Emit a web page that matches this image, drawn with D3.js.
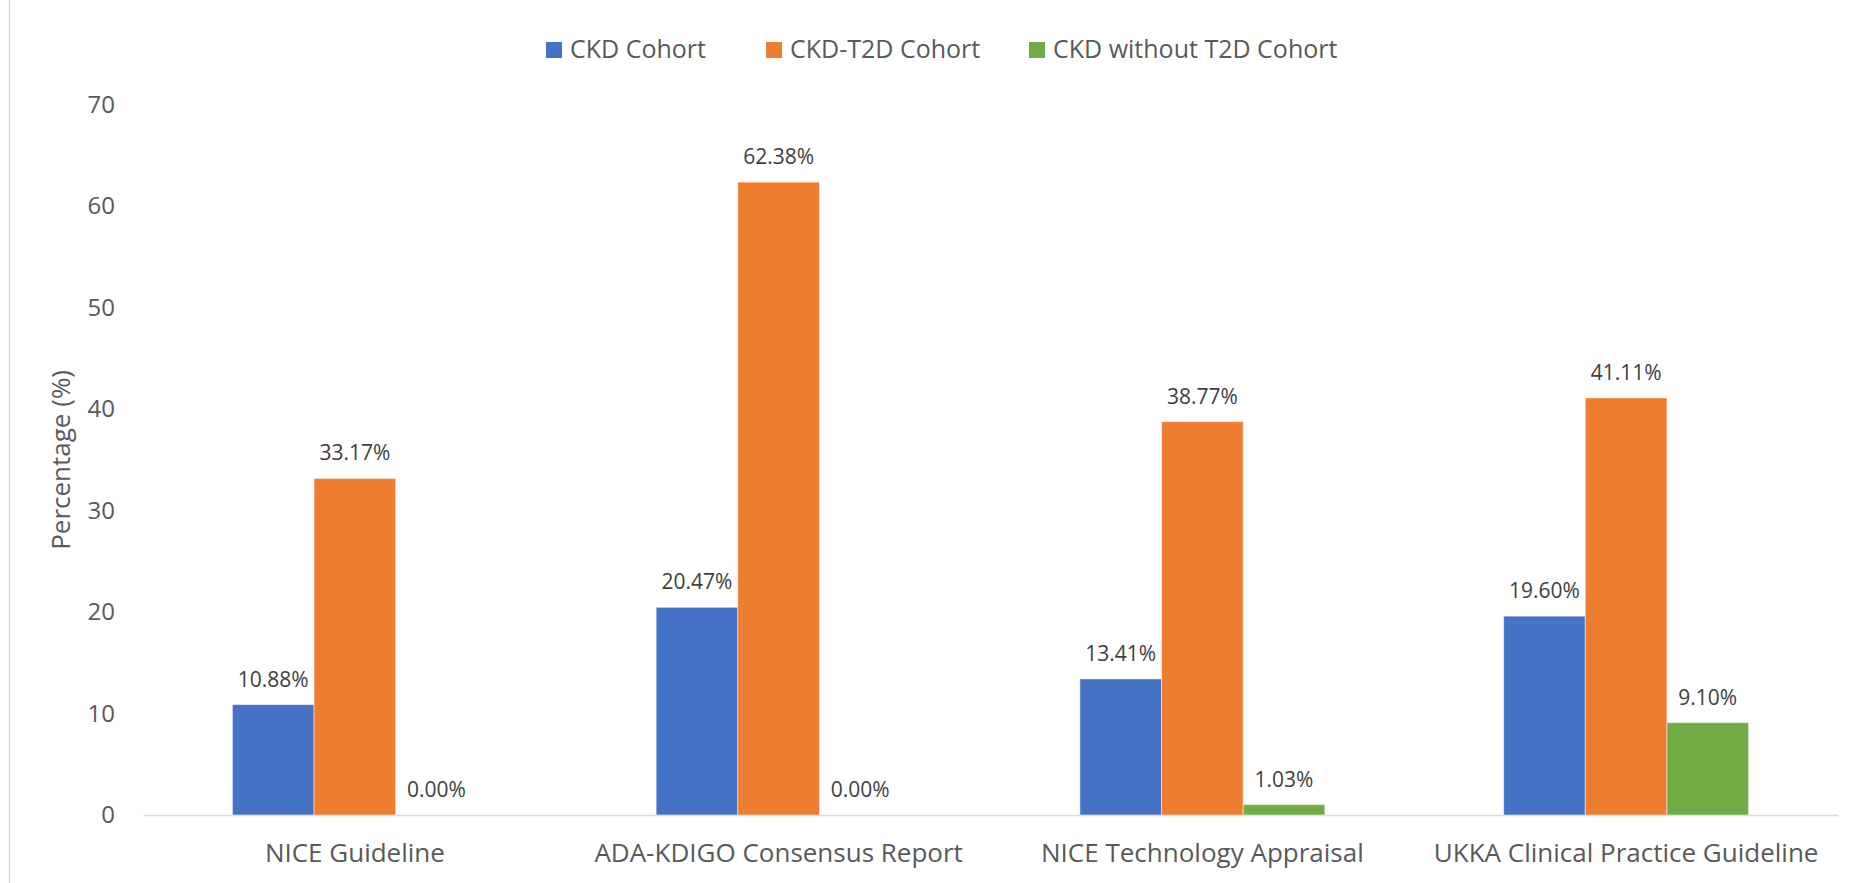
<!DOCTYPE html>
<html>
<head>
<meta charset="utf-8">
<script src="https://cdn.jsdelivr.net/npm/d3@7"></script>
<style>
  html, body { margin: 0; padding: 0; background: #fff; }
  svg { display: block; font-family: "Open Sans", "Noto Sans", sans-serif; }
</style>
</head>
<body>
<svg id="chart" width="1868" height="883"></svg>
<script>
const categories = ["NICE Guideline", "ADA-KDIGO Consensus Report", "NICE Technology Appraisal", "UKKA Clinical Practice Guideline"];
const seriesNames = ["CKD Cohort", "CKD-T2D Cohort", "CKD without T2D Cohort"];
const ckdCohort = [10.88, 20.47, 13.41, 19.60];
const ckdT2dCohort = [33.17, 62.38, 38.77, 41.11];
const ckdNoT2dCohort = [0.00, 0.00, 1.03, 9.10];
const yTicks = [0, 10, 20, 30, 40, 50, 60, 70];
const colors = ["#4472C4", "#ED7D31", "#70AD47"];

const seriesValues = [ckdCohort, ckdT2dCohort, ckdNoT2dCohort];

const W = 1868, H = 883;
const margin = { top: 104.8, right: 30, bottom: 68, left: 143 };
const svg = d3.select("#chart");

// border line at left
svg.append("line")
  .attr("x1", 9.5).attr("x2", 9.5).attr("y1", 0).attr("y2", H)
  .attr("stroke", "#d9d9d9").attr("stroke-width", 1.5);

const x0 = d3.scaleBand()
  .domain(categories)
  .range([margin.left, W - margin.right])
  .paddingInner(0.422)
  .paddingOuter(0.211);

const x1 = d3.scaleBand()
  .domain(seriesNames)
  .range([0, x0.bandwidth()]);

const y = d3.scaleLinear()
  .domain([0, 70])
  .range([H - margin.bottom, margin.top]);

// Y axis labels (no line)
const yAxis = d3.axisLeft(y).tickValues(yTicks).tickSize(0).tickPadding(0).tickFormat(d3.format("d"));
const yg = svg.append("g").attr("transform", `translate(115,0)`).call(yAxis);
yg.select(".domain").remove();
yg.selectAll("text")
  .attr("font-size", 24)
  .attr("fill", "#595959")
  .attr("font-family", "\"Open Sans\", sans-serif");

// X axis
const xAxis = d3.axisBottom(x0).tickSize(0).tickPadding(0);
const xg = svg.append("g").attr("transform", `translate(0,${y(0)})`).call(xAxis);
xg.select(".domain").attr("stroke", "#d9d9d9").attr("stroke-width", 1.5);
xg.selectAll(".tick text")
  .attr("font-size", 26)
  .attr("fill", "#595959")
  .attr("font-family", "\"Open Sans\", sans-serif")
  .attr("dy", null)
  .attr("y", 47);

// Bars
const rows = categories.map((c, i) => ({
  category: c,
  values: seriesNames.map((s, j) => ({ series: s, idx: j, value: seriesValues[j][i] }))
}));

const groups = svg.append("g").selectAll("g")
  .data(rows)
  .join("g")
  .attr("transform", d => `translate(${x0(d.category)},0)`);

groups.selectAll("rect")
  .data(d => d.values)
  .join("rect")
  .attr("x", d => x1(d.series))
  .attr("width", x1.bandwidth())
  .attr("y", d => y(d.value))
  .attr("height", d => y(0) - y(d.value))
  .attr("fill", d => colors[d.idx])
  .attr("stroke", d => d.value > 0 ? "#ffffff" : "none")
  .attr("stroke-opacity", 0.5)
  .attr("stroke-width", 1);

groups.selectAll("text.lbl")
  .data(d => d.values)
  .join("text")
  .attr("class", "lbl")
  .attr("x", d => x1(d.series) + x1.bandwidth() / 2)
  .attr("y", d => y(d.value) - 18)
  .attr("text-anchor", "middle")
  .attr("font-size", 21)
  .attr("fill", "#404040")
  .text(d => d.value.toFixed(2) + "%");

// Y title
svg.append("text")
  .attr("transform", `translate(70,${(y(0) + y(70)) / 2}) rotate(-90)`)
  .attr("text-anchor", "middle")
  .attr("font-size", 26)
  .attr("fill", "#595959")
  .text("Percentage (%)");

// Legend
const legendX = [546, 766, 1029];
const legend = svg.append("g").selectAll("g")
  .data(seriesNames)
  .join("g")
  .attr("transform", (d, i) => `translate(${legendX[i]},42)`);
legend.append("rect")
  .attr("width", 16).attr("height", 16)
  .attr("fill", (d, i) => colors[i]);
legend.append("text")
  .attr("x", 24).attr("y", 15.5)
  .attr("font-size", 25)
  .attr("fill", "#595959")
  .text(d => d);
</script>
</body>
</html>
